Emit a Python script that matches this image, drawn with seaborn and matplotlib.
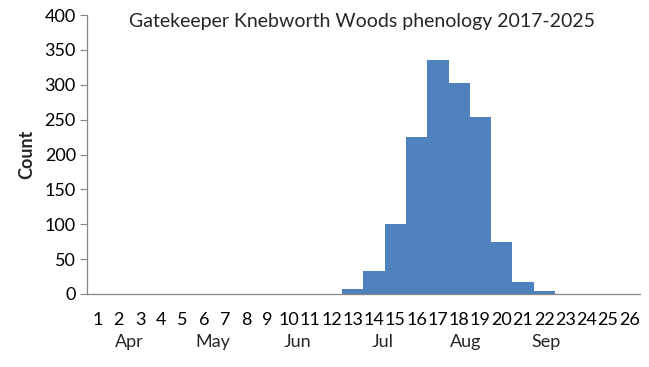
import matplotlib
matplotlib.use("Agg")
import matplotlib.pyplot as plt
import seaborn as sns
import pandas as pd
import matplotlib.transforms as mtransforms

weeks = [str(i) for i in range(1, 27)]
counts = [0, 0, 0, 0, 0, 0, 0, 0, 0, 0, 0, 0, 7, 33, 100, 225, 335, 303, 254, 75, 17, 4, 0, 0, 0, 0]
months = ["Apr", "May", "Jun", "Jul", "Aug", "Sep"]
month_pos = [1.5, 5.4, 9.4, 13.4, 17.3, 21.1]
title = "Gatekeeper Knebworth Woods phenology 2017-2025"

df = pd.DataFrame({"week": weeks, "count": counts})

sns.set_theme(style="white")
plt.rcParams['font.family'] = ['Lato', 'DejaVu Sans']

fig = plt.figure(figsize=(6.49, 3.67), dpi=100)
ax = fig.add_axes([0.134, 0.199, 0.852, 0.760])
sns.barplot(data=df, x="week", y="count", order=weeks, color="#4F81BD",
            saturation=1, width=1.0, ax=ax, edgecolor="none", linewidth=0)

ax.set_ylim(0, 400)
ax.set_xlim(-0.5, 25.5)
ax.set_yticks(range(0, 401, 50))
ax.tick_params(axis='y', which='both', left=True, length=5, width=0.8, color="#868686",
               labelsize=13, pad=3, labelcolor="black")
ax.tick_params(axis='x', bottom=False, labelsize=13, pad=7, labelcolor="black")
for s in ["top", "right"]:
    ax.spines[s].set_visible(False)
for s in ["left", "bottom"]:
    ax.spines[s].set_color("#868686")
    ax.spines[s].set_linewidth(0.9)

ax.set_xlabel("")
ax.set_ylabel("Count", fontsize=13, fontweight="bold", labelpad=7)

trans = mtransforms.blended_transform_factory(ax.transData, fig.transFigure)
for m, p in zip(months, month_pos):
    ax.text(p, 1 - 342 / 367, m, transform=trans, ha="center", va="center", fontsize=13)

fig.text(0.558, 1 - 21 / 367, title, ha="center", va="center", fontsize=14)

fig.savefig("out.png", dpi=100)
